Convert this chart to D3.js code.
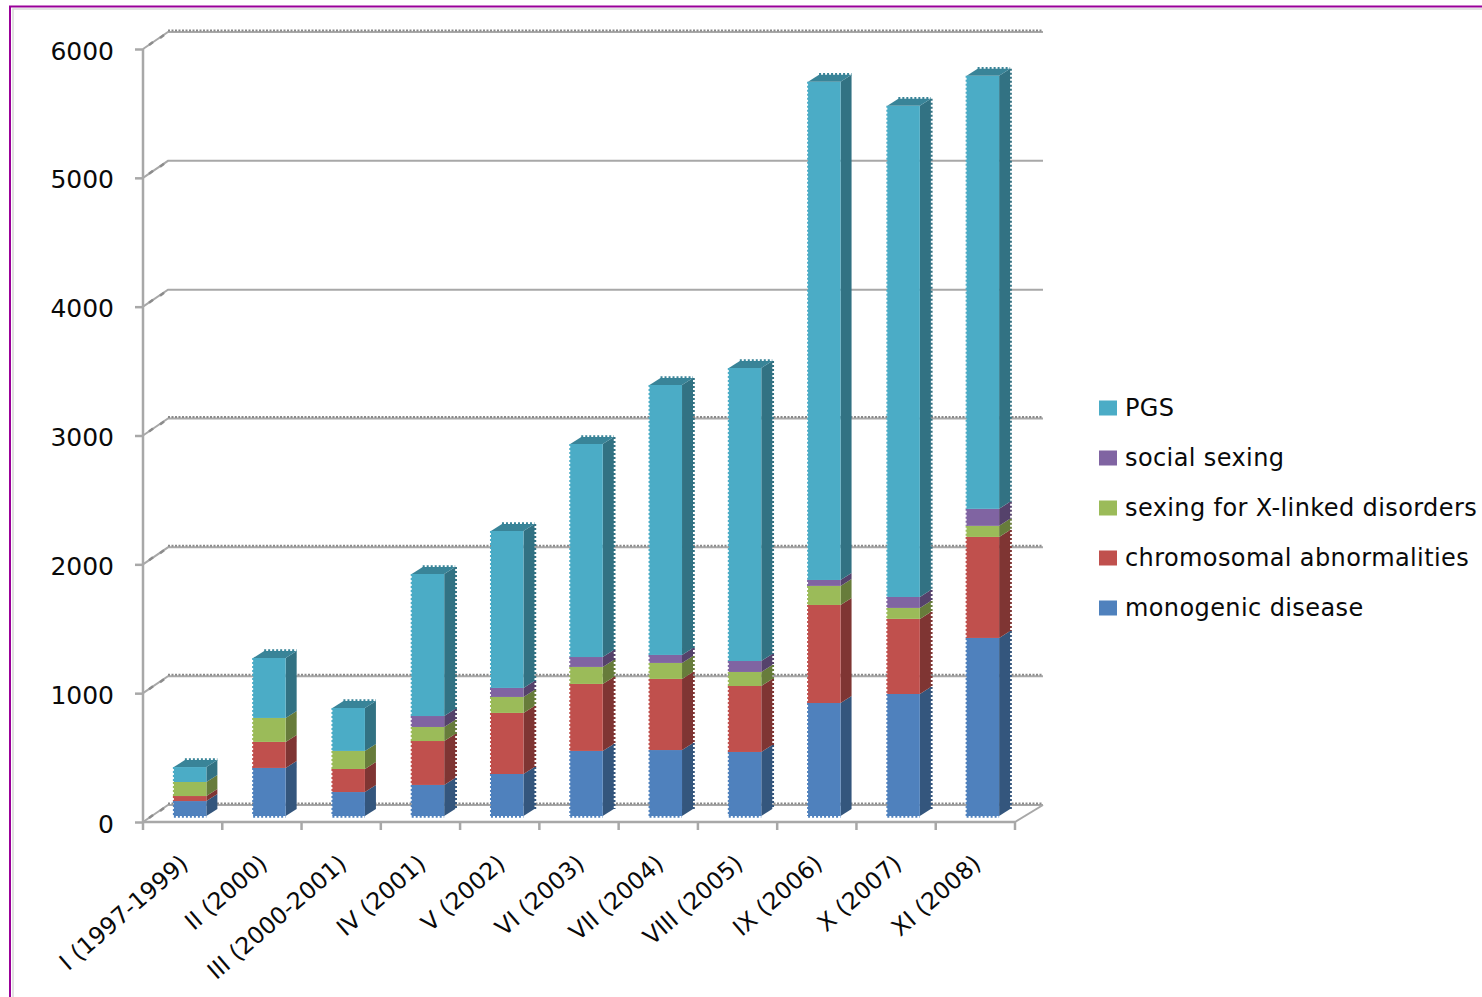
<!DOCTYPE html>
<html>
<head>
<meta charset="utf-8">
<script src="https://cdn.jsdelivr.net/npm/d3@7"></script>
<style>
  html, body { margin: 0; padding: 0; background: #fff; overflow: hidden; }
  svg { display: block; }
  text { font-family: "DejaVu Sans", sans-serif; fill: #0a0a0a; }
</style>
</head>
<body>
<svg id="chart" width="1482" height="997"></svg>
<script>
// Embryo diagnosis cycles per collection, stacked by indication.
const categories = ["I (1997-1999)", "II (2000)", "III (2000-2001)", "IV (2001)", "V (2002)", "VI (2003)", "VII (2004)", "VIII (2005)", "IX (2006)", "X (2007)", "XI (2008)"];
const monogenic = [116, 373, 186, 241, 326, 505, 512, 497, 877, 947, 1382];
const chromosomal = [39, 202, 179, 341, 474, 520, 552, 512, 761, 583, 784];
const sexingXLinked = [109, 186, 140, 109, 124, 132, 124, 109, 148, 85, 86];
const socialSexing = [0, 0, 0, 85, 70, 77, 62, 85, 46, 85, 132];
const pgs = [116, 466, 334, 1103, 1219, 1654, 2096, 2275, 3867, 3812, 3361];
const seriesNames = ["monogenic disease", "chromosomal abnormalities", "sexing for X-linked disorders", "social sexing", "PGS"];
const seriesColors = ["#4f81bd", "#c0504d", "#9bbb59", "#8064a2", "#4bacc6"];
const yTicks = [0, 1000, 2000, 3000, 4000, 5000, 6000];
const dottedGridValues = [0, 1000, 2000, 3000, 6000];

const svg = d3.select("#chart");

const plot = { left: 143, right: 1015, top: 49, bottom: 822 };
const wall = { dx: 25, dy: -17, end: 1043 };      // offset of the back wall
const depth = { dx: 11, dy: -7 };                 // extrusion of each column
const barShift = { dx: 7.5, dy: -6 };             // columns stand inside the floor
const gridColor = "#a8a8a8";

const x = d3.scaleBand().domain(categories).range([plot.left, plot.right]).paddingInner(0.59).paddingOuter(0.295);
const y = d3.scaleLinear().domain([0, 6000]).range([plot.bottom, plot.top]);

// Outer frame
svg.append("path").attr("d", "M10,997V6.5H1482").attr("fill", "none").attr("stroke", "#990099").attr("stroke-width", 2);
svg.append("path").attr("d", "M13,997V9H1482").attr("fill", "none").attr("stroke", "#d9d9d9").attr("stroke-width", 1.5);

// Gridlines folding from the side wall onto the back wall
const grid = svg.append("g");
yTicks.forEach(v => {
  const yf = y(v), yb = yf + wall.dy, xb = plot.left + wall.dx;
  grid.append("path").attr("d", `M${plot.left},${yf}L${xb},${yb}H${wall.end}`)
    .attr("fill", "none").attr("stroke", gridColor).attr("stroke-width", 2);
  grid.append("path").attr("d", `M${plot.left + 6},${yf - 4}L${plot.left + 10},${yf - 7}M${plot.left + 17},${yf - 11}L${plot.left + 21},${yf - 14}`)
    .attr("fill", "none").attr("stroke", "#8c8c8c").attr("stroke-width", 2.5);
  if (dottedGridValues.includes(v)) {
    grid.append("line").attr("x1", xb).attr("x2", wall.end).attr("y1", yb - 1.5).attr("y2", yb - 1.5)
      .attr("stroke", "#8a8a8a").attr("stroke-width", 2).attr("stroke-dasharray", "2 1.5");
  }
});

// Floor edge on the right
grid.append("line").attr("x1", plot.right).attr("y1", plot.bottom).attr("x2", wall.end).attr("y2", plot.bottom + wall.dy)
  .attr("stroke", gridColor).attr("stroke-width", 2);

// Value axis
const yAxis = d3.axisLeft(y).tickValues(yTicks).tickSize(8).tickPadding(21).tickFormat(d3.format("d"));
const yG = svg.append("g").attr("transform", `translate(${plot.left},0)`).call(yAxis);
yG.selectAll("line").attr("stroke", gridColor).attr("stroke-width", 2.5);
yG.select(".domain").attr("stroke", gridColor).attr("stroke-width", 2.5).attr("d", `M0,${plot.top}V${plot.bottom}`);
yG.selectAll("text").attr("font-size", 25).attr("dy", "0.4em").style("font-family", '"DejaVu Sans", sans-serif').attr("fill", "#0a0a0a");

// Category axis: ticks sit on the boundaries between bands
const xG = svg.append("g");
xG.append("line").attr("x1", plot.left).attr("x2", plot.right).attr("y1", plot.bottom).attr("y2", plot.bottom)
  .attr("stroke", gridColor).attr("stroke-width", 2.5);
d3.range(categories.length + 1).forEach(i => {
  const tx = plot.left + i * x.step();
  xG.append("line").attr("x1", tx).attr("x2", tx).attr("y1", plot.bottom).attr("y2", plot.bottom + 8)
    .attr("stroke", gridColor).attr("stroke-width", 2.5);
});
categories.forEach(c => {
  const cx = x(c) + x.bandwidth() / 2 + 7;
  xG.append("text").attr("text-anchor", "end").attr("font-size", 23.5)
    .attr("transform", `translate(${cx},${plot.bottom + 44}) rotate(-41)`).text(c);
});

// Stacked columns
const table = categories.map((c, i) => ({
  category: c,
  [seriesNames[0]]: monogenic[i],
  [seriesNames[1]]: chromosomal[i],
  [seriesNames[2]]: sexingXLinked[i],
  [seriesNames[3]]: socialSexing[i],
  [seriesNames[4]]: pgs[i]
}));
const stacked = d3.stack().keys(seriesNames)(table);
const color = d3.scaleOrdinal().domain(seriesNames).range(seriesColors);
const smoothSideColumns = new Set([0, 1, 2, 8]);

const columns = svg.append("g");
categories.forEach((c, i) => {
  const col = columns.append("g");
  const x0 = x(c) + barShift.dx, x1 = x0 + x.bandwidth();
  stacked.forEach(layer => {
    const [a, b] = layer[i];
    if (b === a) return;
    const base = color(layer.key);
    const y0 = y(a) + barShift.dy, y1 = y(b) + barShift.dy;
    const side = d3.rgb(base).darker(1.15).formatHex();
    // side face
    col.append("path").attr("d", `M${x1},${y0}L${x1 + depth.dx},${y0 + depth.dy}V${y1 + depth.dy}L${x1},${y1}Z`).attr("fill", side);
    // front face
    col.append("rect").attr("x", x0).attr("y", y1).attr("width", x1 - x0).attr("height", y0 - y1).attr("fill", base);
    // serrated edges left by the raster rendering of the columns
    col.append("line").attr("x1", x0 + 0.25).attr("x2", x0 + 0.25).attr("y1", y1).attr("y2", y0)
      .attr("stroke", base).attr("stroke-width", 2.5).attr("stroke-dasharray", "2 2");
    if (!smoothSideColumns.has(i)) {
      col.append("line").attr("x1", x1 + depth.dx + 0.5).attr("x2", x1 + depth.dx + 0.5).attr("y1", y1 + depth.dy).attr("y2", y0 + depth.dy)
        .attr("stroke", side).attr("stroke-width", 2.5).attr("stroke-dasharray", "2 2");
    }
    if (layer.key === seriesNames[0]) {
      col.append("line").attr("x1", x0).attr("x2", x1).attr("y1", y0 + 0.5).attr("y2", y0 + 0.5)
        .attr("stroke", base).attr("stroke-width", 2.5).attr("stroke-dasharray", "2 2");
    }
    if (layer.key === seriesNames[4]) {
      const top = d3.rgb(base).darker(0.75).formatHex();
      col.append("path").attr("d", `M${x0},${y1}L${x0 + depth.dx},${y1 + depth.dy}H${x1 + depth.dx}L${x1},${y1}Z`).attr("fill", top);
      col.append("line").attr("x1", x0 + depth.dx).attr("x2", x1 + depth.dx).attr("y1", y1 + depth.dy - 0.5).attr("y2", y1 + depth.dy - 0.5)
        .attr("stroke", top).attr("stroke-width", 2.5).attr("stroke-dasharray", "2 2");
    }
  });
});

// Legend, top of the stack first
const legend = svg.append("g").attr("transform", "translate(1099,408)");
seriesNames.slice().reverse().forEach((name, i) => {
  const row = legend.append("g").attr("transform", `translate(0,${i * 50})`);
  row.append("rect").attr("y", -7.5).attr("width", 18).attr("height", 15).attr("fill", color(name));
  row.append("text").attr("x", 26).attr("y", 8).attr("font-size", 24).attr("letter-spacing", 0.4).text(name);
});
</script>
</body>
</html>
